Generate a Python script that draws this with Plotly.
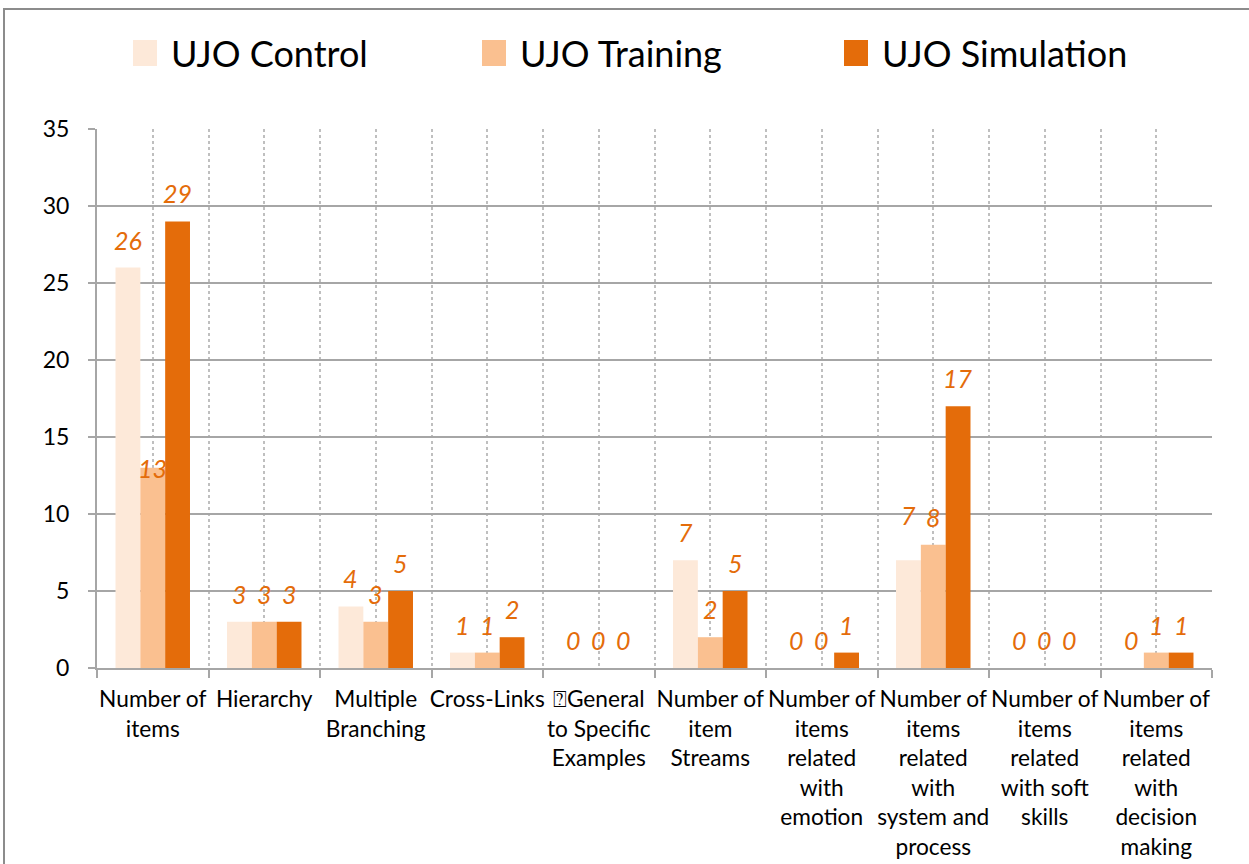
import plotly.graph_objects as go

# Mind-map scoring: three UJO groups over ten criteria
categories = [
    "Number of<br>items",
    "Hierarchy",
    "Multiple<br>Branching",
    "Cross-Links",
    "\u2370General<br>to Specific<br>Examples",
    "Number of<br>item<br>Streams",
    "Number of<br>items<br>related<br>with<br>emotion",
    "Number of<br>items<br>related<br>with<br>system and<br>process",
    "Number of<br>items<br>related<br>with soft<br>skills",
    "Number of<br>items<br>related<br>with<br>decision<br>making",
]
series_names = ["UJO Control", "UJO Training", "UJO Simulation"]
ujo_control = [26, 3, 4, 1, 0, 7, 0, 7, 0, 0]
ujo_training = [13, 3, 3, 1, 0, 2, 0, 8, 0, 1]
ujo_simulation = [29, 3, 5, 2, 0, 5, 1, 17, 0, 1]
y_ticks = [0, 5, 10, 15, 20, 25, 30, 35]

series_values = [ujo_control, ujo_training, ujo_simulation]
colors = ["#FDE9D9", "#FAC090", "#E46C0A"]
label_color = "#E46C0A"
grid_grey = "#A6A6A6"
dot_grey = "#BFBFBF"
font_family = "Lato, 'Open Sans', sans-serif"

# plot-area geometry in pixels
W, H = 1249, 864
L, R, T, B = 97, 1212, 129, 668
BARGAP = 0.332

def px_x(x):
    return (x - L) / (R - L)

def px_y(y):
    return (B - y) / (B - T)

xs = list(range(len(categories)))

fig = go.Figure()
for name, vals, col in zip(series_names, series_values, colors):
    fig.add_trace(go.Bar(
        x=xs, y=vals, name=name, marker=dict(color=col, line=dict(width=0)),
        showlegend=False,
    ))

# value labels above each bar (a couple are nudged to avoid clutter)
nudges = {(0, 1): -28, (7, 0): 17}
bar_w = (1 - BARGAP) / len(series_names)
annotations = []
for s, vals in enumerate(series_values):
    off = (s - (len(series_names) - 1) / 2) * bar_w
    for i, v in enumerate(vals):
        annotations.append(dict(
            x=i + off, y=v, xref="x", yref="y", text=str(v), showarrow=False,
            yanchor="middle", xanchor="center", yshift=28 + nudges.get((i, s), 0),
            font=dict(family=font_family, size=25, color=label_color, style="italic"),
        ))

# legend drawn as coloured squares with captions across the top
legend_x = [133, 482, 844]
shapes = []
for name, col, lx in zip(series_names, colors, legend_x):
    shapes.append(dict(
        type="rect", xref="paper", yref="paper",
        x0=px_x(lx), x1=px_x(lx + 24), y0=px_y(66), y1=px_y(40),
        fillcolor=col, line=dict(width=0), layer="above",
    ))
    annotations.append(dict(
        x=px_x(lx + 36), y=px_y(53), xref="paper", yref="paper", text=name,
        showarrow=False, xanchor="left", yanchor="middle",
        font=dict(family=font_family, size=36, color="#000000"),
    ))

# outer chart frame
shapes.append(dict(
    type="rect", xref="paper", yref="paper",
    x0=px_x(4), x1=px_x(1262), y0=px_y(890), y1=px_y(9),
    line=dict(color="#8C8C8C", width=2), fillcolor="rgba(0,0,0,0)", layer="below",
))

fig.update_layout(
    width=W, height=H,
    margin=dict(l=L, r=W - R, t=T, b=H - B, pad=0, autoexpand=False),
    paper_bgcolor="white", plot_bgcolor="white",
    barmode="group", bargap=BARGAP, bargroupgap=0,
    font=dict(family=font_family, size=21, color="#000000"),
    annotations=annotations, shapes=shapes,
    xaxis=dict(
        range=[-0.5, len(categories) - 0.5], automargin=False,
        tickmode="array", tickvals=xs, ticktext=categories,
        ticks="", showgrid=True, gridcolor=dot_grey, gridwidth=2, griddash="dot",
        showline=True, linecolor=grid_grey, linewidth=2,
        zeroline=False, tickangle=0, ticklabelstandoff=10,
        minor=dict(
            tickmode="array",
            tickvals=[i - 0.5 for i in range(len(categories) + 1)],
            ticks="outside", ticklen=8, tickwidth=2, tickcolor=grid_grey,
            showgrid=True, gridcolor=dot_grey, gridwidth=2, griddash="dot",
        ),
        tickfont=dict(size=22.7, color="#000000"),
    ),
    yaxis=dict(
        range=[0, 35], tickmode="array", tickvals=y_ticks, automargin=False,
        ticks="outside", ticklen=7, tickwidth=2, tickcolor=grid_grey,
        showgrid=True, gridcolor=grid_grey, gridwidth=2,
        showline=True, linecolor=grid_grey, linewidth=2,
        zeroline=False, ticklabelstandoff=14,
        tickfont=dict(size=23, color="#000000"),
    ),
)

fig.write_html("out.html")
